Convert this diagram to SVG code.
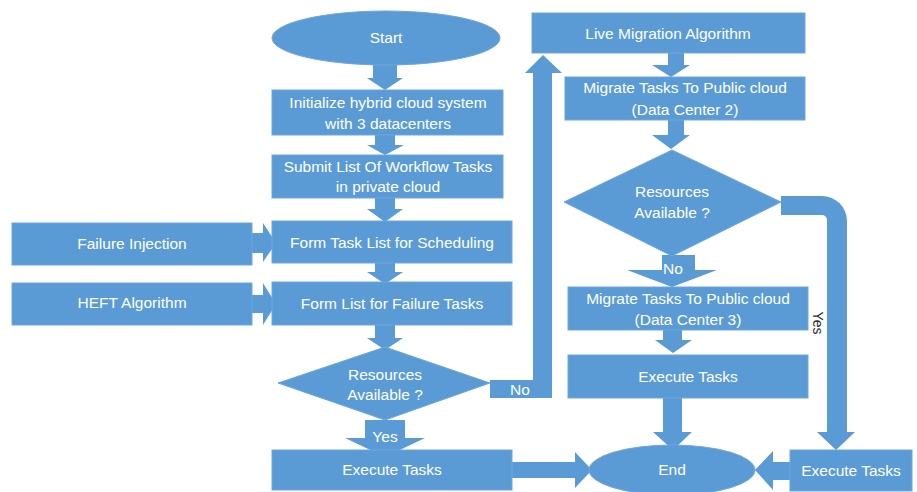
<svg xmlns="http://www.w3.org/2000/svg" width="917" height="492" viewBox="0 0 917 492">
<style>
.s{fill:#5b9bd5;stroke:#6ea6da;stroke-width:1}
.c{fill:#5b9bd5;stroke:none}
.t{fill:#ffffff;font-family:"Liberation Sans",Arial,sans-serif;font-size:15.5px;text-anchor:middle}
.d{fill:#2b2b2b;font-family:"Liberation Sans",Arial,sans-serif;font-size:14px;text-anchor:middle}
</style>
<rect width="917" height="492" fill="#ffffff"/>
<g id="connectors">
<polygon class="c" points="373,64 397,64 397,78 403,78 385,90 367,78 373,78"/>
<polygon class="c" points="375,135 395,135 395,145 404,145 385,155 367,145 375,145"/>
<polygon class="c" points="375,198 395,198 395,209 403,209 385,222 367,209 375,209"/>
<polygon class="c" points="375,263 395,263 395,272 403,272 385,284 367,272 375,272"/>
<polygon class="c" points="375,325 395,325 395,338 403,338 385,350 367,338 375,338"/>
<polygon class="c" points="252,233 263,233 263,223 276,243 263,262 263,253 252,253"/>
<polygon class="c" points="252,295 263,295 263,283 276,304 263,325 263,313 252,313"/>
<polygon class="c" points="490,380 533,380 533,73 525,73 543,55 562,73 552,73 552,398 490,398"/>
<text class="t" x="520" y="395">No</text>
<polygon class="c" points="365,420 405,420 405,438 425,438 385,457 345,438 365,438"/>
<text class="t" x="385" y="442">Yes</text>
<polygon class="c" points="512,462 575,462 575,452 592,470 575,488 575,478 512,478"/>
<polygon class="c" points="668,53 684,53 684,65 690,65 671,77 652,65 668,65"/>
<polygon class="c" points="668,120 684,120 684,135 690,135 671,149 652,135 668,135"/>
<polygon class="c" points="662,255 695,255 695,270 717,270 672,287 627,270 662,270"/>
<text class="t" x="673" y="274">No</text>
<polygon class="c" points="663,330 682,330 682,340 692,340 673,353 655,340 663,340"/>
<polygon class="c" points="663,398 682,398 682,432 692,432 673,450 653,432 663,432"/>
<path class="c" d="M781,196 L822,196 A25,25 0 0 1 847,221 L847,432 L855,432 L836,450 L817,432 L827,432 L827,220 A5,5 0 0 0 822,215 L781,215 Z"/>
<text class="d" transform="translate(813,323) rotate(90)">Yes</text>
<polygon class="c" points="790,462 773,462 773,451 755,470 773,490 773,480 790,480"/>
</g>
<g id="start">
<ellipse class="s" cx="386" cy="38" rx="114" ry="27"/>
<text class="t" x="386" y="43">Start</text>
</g>
<g id="init">
<rect class="s" x="272" y="90" width="231" height="45"/>
<text class="t" x="388" y="108">Initialize hybrid cloud system</text>
<text class="t" x="388" y="129">with 3 datacenters</text>
</g>
<g id="submit">
<rect class="s" x="272" y="155" width="231" height="43"/>
<text class="t" x="388" y="172">Submit List Of Workflow Tasks</text>
<text class="t" x="388" y="192">in private cloud</text>
</g>
<g id="failure-injection">
<rect class="s" x="12" y="223" width="240" height="42"/>
<text class="t" x="132" y="249">Failure Injection</text>
</g>
<g id="form-task-list">
<rect class="s" x="272" y="221" width="240" height="42"/>
<text class="t" x="392" y="248">Form Task List for Scheduling</text>
</g>
<g id="heft">
<rect class="s" x="12" y="283" width="240" height="42"/>
<text class="t" x="132" y="308">HEFT Algorithm</text>
</g>
<g id="form-failure-list">
<rect class="s" x="272" y="282" width="240" height="43"/>
<text class="t" x="392" y="309">Form List for Failure Tasks</text>
</g>
<g id="decision1">
<polygon class="s" points="385,347 490,383 385,420 278,383"/>
<text class="t" x="385" y="380">Resources</text>
<text class="t" x="385" y="400">Available ?</text>
</g>
<g id="execute1">
<rect class="s" x="272" y="450" width="240" height="40"/>
<text class="t" x="392" y="475">Execute Tasks</text>
</g>
<g id="live-migration">
<rect class="s" x="532" y="13" width="273" height="40"/>
<text class="t" x="668" y="39">Live Migration Algorithm</text>
</g>
<g id="migrate-dc2">
<rect class="s" x="565" y="77" width="240" height="43"/>
<text class="t" x="685" y="93">Migrate Tasks To Public cloud</text>
<text class="t" x="685" y="115">(Data Center 2)</text>
</g>
<g id="decision2">
<polygon class="s" points="672,150 781,202 672,256 564,202"/>
<text class="t" x="672" y="197">Resources</text>
<text class="t" x="672" y="218">Available ?</text>
</g>
<g id="migrate-dc3">
<rect class="s" x="568" y="287" width="240" height="43"/>
<text class="t" x="688" y="304">Migrate Tasks To Public cloud</text>
<text class="t" x="688" y="325">(Data Center 3)</text>
</g>
<g id="execute2">
<rect class="s" x="568" y="355" width="240" height="43"/>
<text class="t" x="688" y="382">Execute Tasks</text>
</g>
<g id="end">
<ellipse class="s" cx="672" cy="470" rx="83" ry="25"/>
<text class="t" x="672" y="475">End</text>
</g>
<g id="execute3">
<rect class="s" x="790" y="450" width="122" height="41"/>
<text class="t" x="851" y="476">Execute Tasks</text>
</g>
</svg>
